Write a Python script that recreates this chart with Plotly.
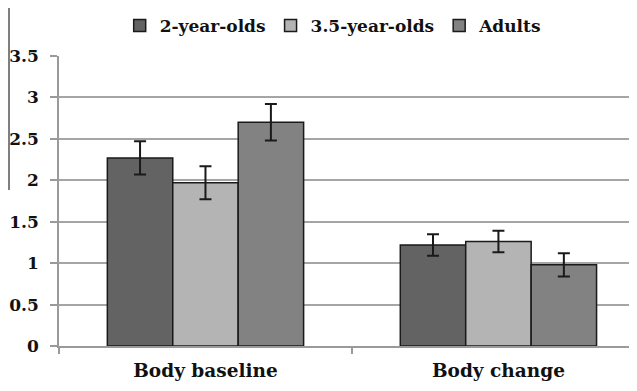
import plotly.graph_objects as go

categories = ["Body baseline", "Body change"]
series_names = ["2-year-olds", "3.5-year-olds", "Adults"]
values_2yo = [2.27, 1.22]
values_35yo = [1.97, 1.26]
values_adults = [2.70, 0.98]
err_2yo = [0.20, 0.13]
err_35yo = [0.20, 0.13]
err_adults = [0.22, 0.14]
y_ticks = [0, 0.5, 1, 1.5, 2, 2.5, 3, 3.5]
y_tick_labels = ["0", "0.5", "1", "1.5", "2", "2.5", "3", "3.5"]

colors = ["#636363", "#b4b4b4", "#828282"]
font_family = "DejaVu Serif"

fig = go.Figure()
for name, vals, errs, col in zip(series_names,
                                 [values_2yo, values_35yo, values_adults],
                                 [err_2yo, err_35yo, err_adults], colors):
    fig.add_trace(go.Bar(
        x=categories, y=vals, name=name,
        marker=dict(color=col, line=dict(color="#1a1a1a", width=1.5)),
        error_y=dict(type="data", array=errs, visible=True,
                     color="#1a1a1a", thickness=2, width=6),
    ))

fig.update_layout(
    width=629, height=383,
    margin=dict(l=51, r=0, t=48, b=45, autoexpand=False),
    paper_bgcolor="white", plot_bgcolor="white",
    barmode="group", bargap=0.33, bargroupgap=0,
    font=dict(family=font_family, size=17, color="#111111"),
    showlegend=True,
    legend=dict(orientation="h", x=0.517, xanchor="center",
                xref="container", yref="container", y=1.0, yanchor="top",
                font=dict(size=17, family=font_family, weight="bold"),
                itemwidth=30, traceorder="normal"),
    xaxis=dict(
        range=[-0.5, 1.473], automargin=False,
        showgrid=False, showline=True, linecolor="#9a9a9a", linewidth=1.5,
        tickson="boundaries", ticks="outside", ticklen=6, tickcolor="#9a9a9a",
        tickwidth=1.5,
        tickfont=dict(size=18.5, family=font_family, weight="bold"),
        ticklabelstandoff=7,
    ),
    yaxis=dict(
        range=[0, 3.5], automargin=False,
        tickvals=y_ticks, ticktext=y_tick_labels,
        showgrid=True, gridcolor="#a5a5a5", gridwidth=1.5,
        showline=True, linecolor="#9a9a9a", linewidth=1.5,
        ticks="outside", ticklen=7, tickcolor="#9a9a9a", tickwidth=1.5,
        tickfont=dict(size=17, family=font_family, weight="bold"),
        ticklabelstandoff=8,
        zeroline=False,
    ),
)

fig.add_shape(type="line", xref="paper", yref="paper",
              x0=-0.0865, x1=-0.0865, y0=1.17, y1=0.538,
              line=dict(color="#555555", width=1.5))

fig.write_html("out.html")
